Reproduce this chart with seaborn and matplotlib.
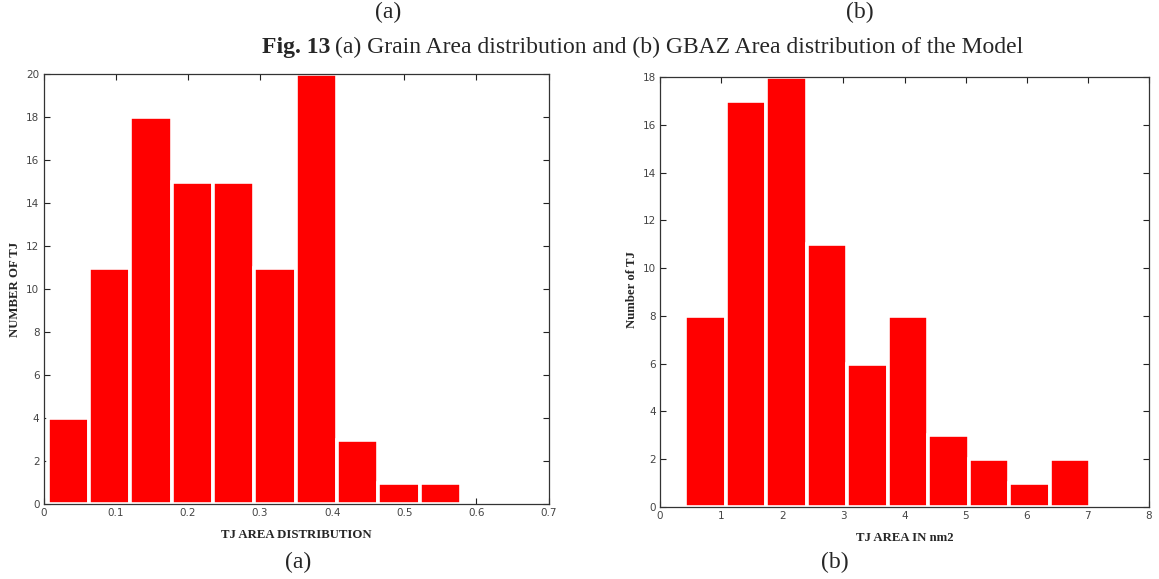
import numpy as np
import pandas as pd
import matplotlib
matplotlib.use("Agg")
import matplotlib.pyplot as plt
import seaborn as sns

# Histogram (a): triple-junction area distribution
grain_counts = [4, 11, 18, 15, 15, 11, 20, 3, 1, 1]
grain_bin_start = 0.0058
grain_bin_width = 0.0573

# Histogram (b): triple-junction area in nm2
gbaz_counts = [8, 17, 18, 11, 6, 8, 3, 2, 1, 2]
gbaz_bin_start = 0.414
gbaz_bin_width = 0.662

grain_xticks = [0, 0.1, 0.2, 0.3, 0.4, 0.5, 0.6, 0.7]
grain_yticks = list(range(0, 21, 2))
gbaz_xticks = list(range(0, 9))
gbaz_yticks = list(range(0, 19, 2))

sns.set_theme(style="white")
plt.rcParams["font.family"] = ["DejaVu Sans"]

BAR_RED = "#ff0000"
TICK_GREY = "#444444"
SERIF = ["Liberation Serif", "DejaVu Serif"]
W, H = 1159, 579


def draw_hist(ax, counts, start, width, xticks, yticks, xlabel, ylabel,
              ylabel_x):
    n = len(counts)
    centers = start + width * (np.arange(n) + 0.5)
    df = pd.DataFrame({"value": centers, "count": counts})
    sns.histplot(data=df, x="value", weights="count", bins=n,
                 binrange=(start, start + n * width), ax=ax,
                 color=BAR_RED, alpha=1.0, edgecolor="white",
                 linewidth=2.6, stat="count")
    ax.set_xlim(xticks[0], xticks[-1])
    ax.set_ylim(yticks[0], yticks[-1])
    ax.set_xticks(xticks)
    ax.set_yticks(yticks)
    ax.set_xticklabels([f"{t:g}" for t in xticks])
    ax.set_yticklabels([f"{t:g}" for t in yticks])
    ax.tick_params(direction="in", length=4, width=0.8, top=True,
                   right=True, bottom=True, left=True, labelsize=7.5,
                   labelcolor=TICK_GREY, color="#222222", pad=3)
    for sp in ax.spines.values():
        sp.set_visible(True)
        sp.set_color("#333333")
        sp.set_linewidth(0.9)
    ax.set_xlabel(xlabel, family=SERIF, fontsize=9.2, fontweight="bold",
                  labelpad=8)
    ax.set_ylabel(ylabel, family=SERIF, fontsize=9.2, fontweight="bold")
    # place the y label at a fixed horizontal pixel position
    ax.yaxis.set_label_coords(ylabel_x / W, 0.5,
                              transform=ax.figure.transFigure)
    ax.yaxis.label.set_va("center")
    ax.grid(False)


fig = plt.figure(figsize=(11.59, 5.79), dpi=100)
fig.patch.set_facecolor("white")

ax_a = fig.add_axes([0.0376, 0.1295, 0.4357, 0.7427])
ax_b = fig.add_axes([0.5695, 0.1244, 0.4219, 0.7427])

draw_hist(ax_a, grain_counts, grain_bin_start, grain_bin_width,
          grain_xticks, grain_yticks, "TJ AREA DISTRIBUTION", "NUMBER OF TJ",
          15)
draw_hist(ax_b, gbaz_counts, gbaz_bin_start, gbaz_bin_width,
          gbaz_xticks, gbaz_yticks, "TJ AREA IN nm2", "Number of TJ", 632)

# Panel markers and figure caption
CAP = 17
fig.text(388 / W, 1 - 12 / H, "(a)", family=SERIF, fontsize=CAP,
         ha="center", va="center")
fig.text(860 / W, 1 - 12 / H, "(b)", family=SERIF, fontsize=CAP,
         ha="center", va="center")
fig_no = fig.text(262 / W, 1 - 47 / H, "Fig. 13", family=SERIF,
                  fontsize=CAP, fontweight="bold", ha="left", va="center")
fig.canvas.draw()
bb = fig_no.get_window_extent()
fig.text((bb.x1 + 5) / W, 1 - 47 / H,
         "(a) Grain Area distribution and (b) GBAZ Area distribution of the Model",
         family=SERIF, fontsize=CAP, ha="left", va="center")
fig.text(298 / W, 1 - 562 / H, "(a)", family=SERIF, fontsize=CAP,
         ha="center", va="center")
fig.text(835 / W, 1 - 562 / H, "(b)", family=SERIF, fontsize=CAP,
         ha="center", va="center")

fig.savefig("out.png", dpi=100, facecolor="white")
